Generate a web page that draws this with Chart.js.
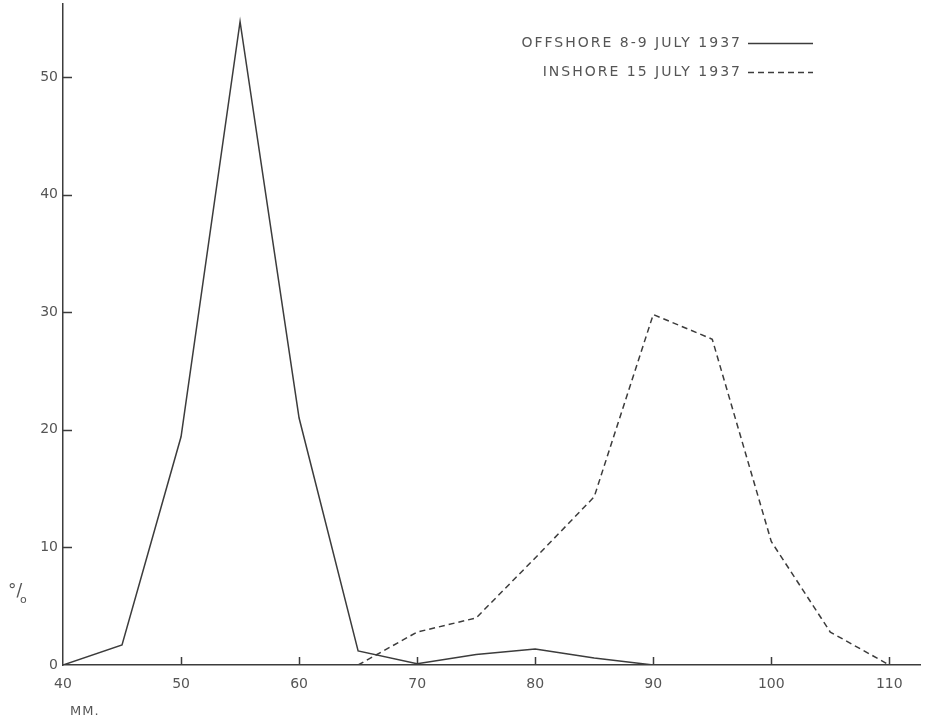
<!DOCTYPE html>
<html>
<head>
<meta charset="utf-8">
<script src="https://cdn.jsdelivr.net/npm/chart.js@4/dist/chart.umd.min.js"></script>
<style>
  html, body { margin: 0; padding: 0; background: #ffffff; }
  #wrap { width: 926px; height: 719px; }
</style>
</head>
<body>
<div id="wrap"><canvas id="c" width="926" height="719"></canvas></div>
<script>
// Length (mm) classes
const lengths = [40, 45, 50, 55, 60, 65, 70, 75, 80, 85, 90, 95, 100, 105, 110];

// Percentage of catch in each length class
const offshore = [0, 1.7, 19.4, 54.7, 21.0, 1.2, 0.1, 0.9, 1.35, 0.6, 0, null, null, null, null];
const inshore  = [null, null, null, null, null, 0, 2.8, 4.0, 9.1, 14.3, 29.8, 27.7, 10.5, 2.8, 0];

const seriesNames = ['OFFSHORE 8-9 JULY 1937', 'INSHORE 15 JULY 1937'];
const xTicks = [40, 50, 60, 70, 80, 90, 100, 110];
const yTicks = [0, 10, 20, 30, 40, 50];

const ink = '#3c3c3c';
const textInk = '#555555';
const fontFamily = '"DejaVu Sans", "Open Sans", sans-serif';

function pts(values) {
  const out = [];
  lengths.forEach((x, i) => { if (values[i] !== null) out.push({ x: x, y: values[i] }); });
  return out;
}

// Inner tick marks, axis captions and the line-sample key
const annotate = {
  id: 'annotate',
  afterDraw(chart) {
    const ctx = chart.ctx;
    const xs = chart.scales.x, ys = chart.scales.y;
    const area = chart.chartArea;
    ctx.save();
    ctx.strokeStyle = ink;
    ctx.lineWidth = 1.5;
    ctx.beginPath();
    xTicks.forEach(v => {
      const px = Math.round(xs.getPixelForValue(v)) + 0.5;
      if (v === 40) return;
      ctx.moveTo(px, area.bottom);
      ctx.lineTo(px, area.bottom - 8);
    });
    yTicks.forEach(v => {
      if (v === 0) return;
      const py = Math.round(ys.getPixelForValue(v)) + 0.5;
      ctx.moveTo(area.left, py);
      ctx.lineTo(area.left + 9, py);
    });
    ctx.stroke();

    // axis captions
    ctx.fillStyle = textInk;
    ctx.textBaseline = 'middle';
    ctx.textAlign = 'left';
    ctx.font = '13px ' + fontFamily;
    ctx.letterSpacing = '1px';
    ctx.fillText('MM.', 70, 712);
    ctx.letterSpacing = '0px';
    ctx.font = '17px ' + fontFamily;
    ctx.fillText('°/', 8, 592);
    ctx.font = '11px ' + fontFamily;
    ctx.fillText('o', 20, 600);

    // key: label text followed by a sample of the line style
    ctx.font = '14px ' + fontFamily;
    ctx.letterSpacing = '2px';
    ctx.textAlign = 'right';
    const rows = [43, 72];
    chart.data.datasets.forEach((ds, i) => {
      const y = rows[i];
      ctx.fillStyle = textInk;
      ctx.fillText(ds.label, 742, y);
      ctx.strokeStyle = ink;
      ctx.lineWidth = 1.4;
      ctx.setLineDash(ds.borderDash || []);
      ctx.beginPath();
      ctx.moveTo(748, y + 0.5);
      ctx.lineTo(813, y + 0.5);
      ctx.stroke();
    });
    ctx.setLineDash([]);
    ctx.restore();
  }
};

new Chart(document.getElementById('c'), {
  type: 'line',
  data: {
    datasets: [
      {
        label: seriesNames[0],
        data: pts(offshore),
        borderColor: ink,
        borderWidth: 1.5,
        pointRadius: 0,
        tension: 0,
        fill: false
      },
      {
        label: seriesNames[1],
        data: pts(inshore),
        borderColor: ink,
        borderWidth: 1.5,
        borderDash: [6, 4],
        pointRadius: 0,
        tension: 0,
        fill: false
      }
    ]
  },
  options: {
    responsive: false,
    animation: false,
    layout: { padding: { left: 0, right: 6, top: 4, bottom: 0 } },
    plugins: {
      legend: { display: false },
      tooltip: { enabled: false }
    },
    scales: {
      x: {
        type: 'linear',
        min: 40,
        max: 112.6,
        afterFit(scale) { scale.height = 54; },
        afterBuildTicks(scale) { scale.ticks = xTicks.map(v => ({ value: v })); },
        grid: { display: true, drawOnChartArea: false, drawTicks: false },
        border: { display: true, color: ink, width: 1.5 },
        ticks: {
          padding: 11,
          color: textInk,
          font: { size: 14, family: fontFamily },
          maxRotation: 0,
          autoSkip: false
        }
      },
      y: {
        type: 'linear',
        min: 0,
        max: 56.2,
        afterFit(scale) { scale.width = 63; scale.paddingTop = 0; },
        afterBuildTicks(scale) { scale.ticks = yTicks.map(v => ({ value: v })); },
        grid: { display: true, drawOnChartArea: false, drawTicks: false },
        border: { display: true, color: ink, width: 1.5 },
        ticks: {
          padding: 5,
          color: textInk,
          font: { size: 14, family: fontFamily },
          autoSkip: false
        }
      }
    }
  },
  plugins: [annotate]
});
</script>
</body>
</html>
